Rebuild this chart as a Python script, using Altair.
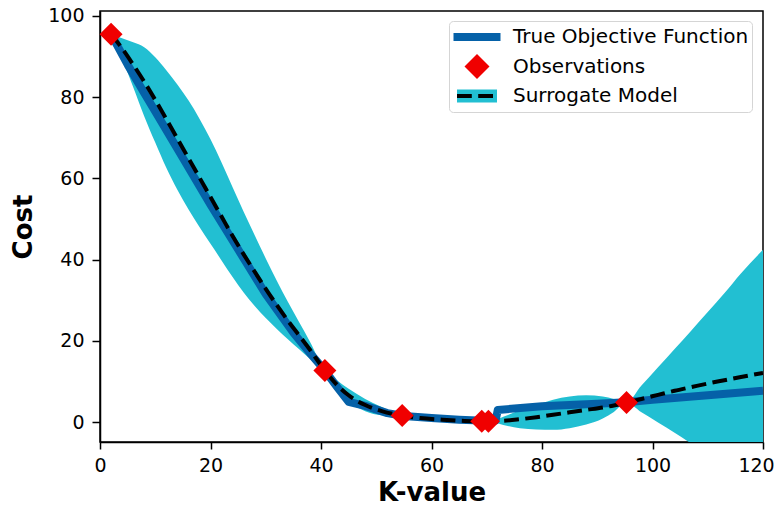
import altair as alt
import pandas as pd

# ---- data ----
grid_x = [2, 4, 6, 8, 10, 12, 14, 16, 18, 20, 22, 24, 26, 28, 30, 32, 34, 36, 38, 40.7,
          43, 45, 48, 51, 55, 58, 62, 66, 69, 70.5, 73, 76, 79, 82, 85, 88, 91, 93, 95.2,
          98, 101, 104, 107, 110, 113, 116, 120]
mean_y = [95.5, 92, 88, 83.8, 79.3, 74.6, 69.8, 65, 60.2, 55.4, 50.6, 45.8, 41.3, 37, 32.8, 28.8, 25, 21.4, 17.8, 12.7,
          9.0, 6.6, 4.2, 2.7, 1.5, 1.0, 0.6, 0.3, 0.2, 0.2, 0.3, 0.7, 1.2, 1.8, 2.4, 3.0, 3.6, 4.1, 4.8,
          5.7, 6.7, 7.7, 8.6, 9.5, 10.3, 11.1, 12.1]
lower_y = [95.5, 89.5, 82.5, 75.3, 68.8, 62.6, 57.2, 52.4, 48.0, 43.9, 39.8, 35.7, 31.9, 28.6, 25.6, 22.9, 20.4, 18.0, 15.6, 12.7,
           7.8, 5.0, 2.7, 1.7, 1.5, 0.7, 0.2, 0.0, 0.2, 0.2, -0.7, -1.5, -1.8, -1.9, -1.5, -0.6, 0.9, 2.5, 4.8,
           2.4, -0.1, -2.6, -5.3, -8.1, -11.1, -14.4, -18.2]
upper_y = [95.5, 94.5, 93.5, 92.3, 89.8, 86.6, 83.1, 79.2, 74.7, 69.6, 63.9, 57.8, 51.8, 46, 40.3, 34.8, 29.6, 24.7, 19.8, 12.7,
           10.2, 8.2, 5.7, 3.7, 1.5, 1.3, 1.0, 0.6, 0.2, 0.2, 1.3, 2.9, 4.2, 5.5, 6.3, 6.6, 6.3, 5.7, 4.8,
           9.0, 13.5, 18.0, 22.5, 27.1, 31.7, 36.6, 42.4]

true_x = [2, 5, 8, 10, 15, 20, 25, 30, 35, 38, 40.7, 43, 45, 48, 52, 55, 60, 65, 70.5, 71.6, 72,
          80, 90, 95.2, 100, 110, 120]
true_y = [95.5, 88, 81, 76.5, 65, 53.5, 42.5, 31.5, 22, 17, 12.7, 8.5, 5, 4, 2.2, 1.5, 1.0, 0.6, 0.3, 0.4, 3.0,
          3.9, 4.5, 4.9, 5.5, 6.6, 7.7]

obs_x = [2, 40.7, 54.7, 69.1, 70.3, 95.3]
obs_y = [95.5, 12.7, 1.6, 0.2, 0.2, 4.8]

legend_names = ["True Objective Function", "Observations", "Surrogate Model"]
x_ticks = [0, 20, 40, 60, 80, 100, 120]
y_ticks = [0, 20, 40, 60, 80, 100]

BLUE = "#0561a8"
RED = "#f00000"
CYAN = "#22bfd2"
FONT = "DejaVu Sans"

grid_df = pd.DataFrame({"x": grid_x, "mean": mean_y, "lo": lower_y, "hi": upper_y})
true_df = pd.DataFrame({"x": true_x, "y": true_y})
obs_df = pd.DataFrame({"x": obs_x, "y": obs_y})
leg_df = pd.DataFrame({"series": legend_names, "lx": [float("nan")] * 3, "ly": [float("nan")] * 3})

xscale = alt.Scale(domain=[0, 120], nice=False, zero=False)
yscale = alt.Scale(domain=[-4.9, 101.2], nice=False, zero=False)

xaxis = alt.Axis(values=x_ticks, title="K-value", grid=False, labelFlush=False,
                 tickSize=7, labelPadding=7, titlePadding=4,
                 labelOffset=alt.ExprRef(expr="datum.value == 120 ? -7 : 0"))
yaxis = alt.Axis(values=y_ticks, title="Cost", grid=False, labelFlush=False,
                 tickSize=8, labelPadding=8, titlePadding=11)

band = alt.Chart(grid_df).mark_area(color=CYAN, opacity=1, interpolate="monotone", clip=True).encode(
    x=alt.X("x:Q", scale=xscale, axis=xaxis),
    y=alt.Y("lo:Q", scale=yscale, axis=yaxis),
    y2="hi:Q",
)

true_line = alt.Chart(true_df).mark_line(color=BLUE, strokeWidth=8, strokeJoin="round", clip=True).encode(
    x="x:Q", y="y:Q"
)

dash_legend = alt.Legend(
    orient="none", legendX=355, legendY=63, title=None, labelExpr="''",
    symbolType="stroke", symbolSize=1600, symbolStrokeWidth=4, symbolStrokeColor="black",
    padding=0, labelFontSize=1, zindex=3,
)

mean_line = alt.Chart(grid_df).mark_line(color="black", strokeWidth=4, interpolate="monotone", clip=True).encode(
    x="x:Q", y="mean:Q",
    strokeDash=alt.StrokeDash("dname:N", scale=alt.Scale(domain=["Surrogate Model"], range=[[14.8, 6.4]]),
                              legend=dash_legend),
).transform_calculate(dname="'Surrogate Model'")

obs = alt.Chart(obs_df).mark_point(shape="diamond", filled=True, size=529, color=RED, opacity=1).encode(
    x="x:Q", y="y:Q"
)

# legend symbol shapes (unit = 12.5 px); a zero-area stroke keeps each entry the same height
line_path = "M-0.92,-0.32H2.84V0.32H-0.92Z M0.96,-1L0.96,1"
diamond_path = "M-0.04,0L0.96,-1L1.96,0L0.96,1Z"
rect_path = "M-0.64,-0.52H2.56V0.52H-0.64Z M0.96,-1L0.96,1"

main_legend = alt.Legend(
    orient="none", legendX=349, legendY=10, title=None,
    labelFont=FONT, labelFontSize=20, labelColor="black", labelLimit=400,
    symbolSize=625, symbolStrokeWidth=0, symbolOpacity=1,
    padding=3.5, labelOffset=35.5, rowPadding=4.5,
    strokeColor="#d5d5d5", fillColor="rgba(255,255,255,0.8)", cornerRadius=4, zindex=1,
)

leg = alt.Chart(leg_df).mark_point(filled=True, opacity=1).encode(
    x="lx:Q", y="ly:Q",
    color=alt.Color("series:N", scale=alt.Scale(domain=legend_names, range=[BLUE, RED, CYAN]), legend=main_legend),
    shape=alt.Shape("series:N", scale=alt.Scale(domain=legend_names, range=[line_path, diamond_path, rect_path]),
                    legend=main_legend),
)

chart = alt.layer(band, true_line, mean_line, obs, leg).resolve_scale(
    color="independent", shape="independent", strokeDash="independent"
).properties(
    width=663, height=431,
    autosize=alt.AutoSizeParams(type="none"),
    padding={"left": 92, "top": 3, "right": 12, "bottom": 60},
).configure(font=FONT).configure_view(
    stroke="black", strokeWidth=1.5
).configure_axis(
    labelFont=FONT, labelFontSize=19, labelColor="black",
    titleFont=FONT, titleFontSize=26, titleFontWeight="bold", titleColor="black",
    tickColor="black", tickWidth=1.5, domainColor="black", domainWidth=1.5,
)

chart.save("out.html", embed_options={"renderer": "svg", "actions": False})
